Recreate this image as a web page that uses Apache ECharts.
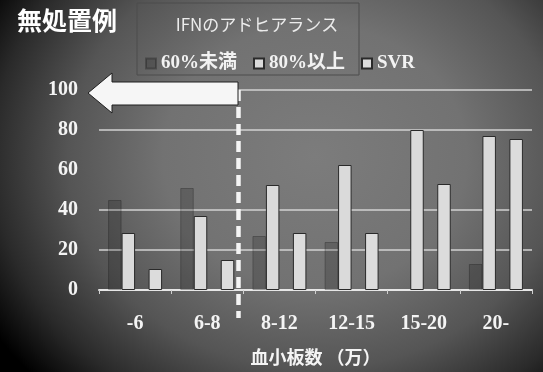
<!DOCTYPE html>
<html>
<head>
<meta charset="utf-8">
<script src="https://cdn.jsdelivr.net/npm/echarts@6/dist/echarts.min.js"></script>
<style>
  html, body { margin: 0; padding: 0; background: #000; }
  #chart {
    width: 543px; height: 372px;
    background: radial-gradient(ellipse 70% 88% at 58% 42%, #7c7c7c 0%, #727272 40%, #555555 65%, #2a2a2a 85%, #000 100%);
  }
</style>
</head>
<body>
<div id="chart"></div>
<script>
// Platelet-count groups (x 10^4) and percentages per group
const categories = ['-6', '6-8', '8-12', '12-15', '15-20', '20-'];
const below60 = [45, 51, 27, 24, null, 13];      // adherence 60%未満
const over80 = [28.5, 37, 52.5, 62.5, 80, 77];    // adherence 80%以上
const svr = [10.5, 15, 28.5, 28.5, 53, 75.5];     // SVR
const gapSlot = [null, null, null, null, null, null]; // empty slot between 80%以上 and SVR
const gridValues = [20, 40, 80, 100];

const serifBold = "'Liberation Serif', 'Noto Sans CJK JP', serif";
const sansJP = "'Noto Sans CJK JP', 'Noto Sans', sans-serif";

const chart = echarts.init(document.getElementById('chart'), null, { renderer: 'canvas' });

const barBase = { type: 'bar', barWidth: 13.5, barGap: '0%', barCategoryGap: '25%' };

chart.setOption({
  backgroundColor: 'transparent',
  animation: false,
  title: [
    { text: '無処置例', left: 12, top: 3,
      textStyle: { color: '#ffffff', fontSize: 25, fontWeight: 'bold', fontFamily: sansJP } },
    { text: 'IFNのアドヒアランス', left: 252, top: 11, textAlign: 'center',
      textStyle: { color: '#ececec', fontSize: 17, fontWeight: 'normal', fontFamily: sansJP } }
  ],
  legend: {
    data: ['60%未満', '80%以上', 'SVR'],
    left: 140, top: 49,
    itemWidth: 10, itemHeight: 10, itemGap: 16,
    icon: 'rect',
    textStyle: { color: '#f2f2f2', fontSize: 19, fontWeight: 'bold', fontFamily: serifBold }
  },
  grid: { left: 99, right: 11, top: 90, bottom: 82 },
  xAxis: {
    type: 'category',
    data: categories,
    name: '血小板数 （万）',
    nameLocation: 'middle',
    nameGap: 58,
    nameTextStyle: { color: '#f4f4f4', fontSize: 18, fontWeight: 'bold', fontFamily: sansJP },
    axisLine: { lineStyle: { color: '#e6e6e6', width: 2 } },
    axisTick: { show: true, length: 4, lineStyle: { color: '#d0d0d0', width: 1 } },
    axisLabel: { color: '#f4f4f4', fontSize: 20, fontWeight: 'bold', fontFamily: serifBold, margin: 24 }
  },
  yAxis: {
    type: 'value', min: 0, max: 100, interval: 20,
    axisLine: { show: false }, axisTick: { show: false },
    splitLine: { show: false },
    axisLabel: { color: '#f4f4f4', fontSize: 20, fontWeight: 'bold', fontFamily: serifBold, margin: 21 }
  },
  series: [
    Object.assign({}, barBase, {
      name: '60%未満', data: below60, z: 2,
      itemStyle: { color: 'rgba(0,0,0,0.17)', borderColor: 'rgba(0,0,0,0.25)', borderWidth: 1 }
    }),
    Object.assign({}, barBase, {
      name: '80%以上', data: over80, z: 2,
      itemStyle: { color: '#dadada', borderColor: '#2a2a2a', borderWidth: 1 }
    }),
    Object.assign({}, barBase, {
      name: 'gap', data: gapSlot, z: 2,
      itemStyle: { color: 'transparent' },
      markLine: {
        z: 1, silent: true, symbol: 'none',
        label: { show: false },
        lineStyle: { color: '#d2d2d2', width: 1.5, type: 'solid' },
        data: gridValues.map(v => ({ yAxis: v }))
      }
    }),
    Object.assign({}, barBase, {
      name: 'SVR', data: svr, z: 2,
      itemStyle: { color: '#dcdcdc', borderColor: '#2a2a2a', borderWidth: 1 }
    })
  ],
  graphic: [
    // legend frame
    { type: 'rect', z: 1, shape: { x: 137, y: 3, width: 222, height: 72 },
      style: { fill: 'none', stroke: '#4c4c4c', lineWidth: 1 } },
    // divider between low and normal platelet groups
    { type: 'line', z: 10, shape: { x1: 238.5, y1: 90, x2: 238.5, y2: 318 },
      style: { stroke: '#f4f4f4', lineWidth: 4.5, lineDash: [11, 6] } },
    // left-pointing arrow
    { type: 'polygon', z: 11,
      shape: { points: [[88, 93], [112, 73], [112, 82], [238, 82], [238, 105], [112, 105], [112, 113]] },
      style: { fill: '#f6f6f6', stroke: '#1e1e1e', lineWidth: 1 } }
  ]
});
</script>
</body>
</html>
